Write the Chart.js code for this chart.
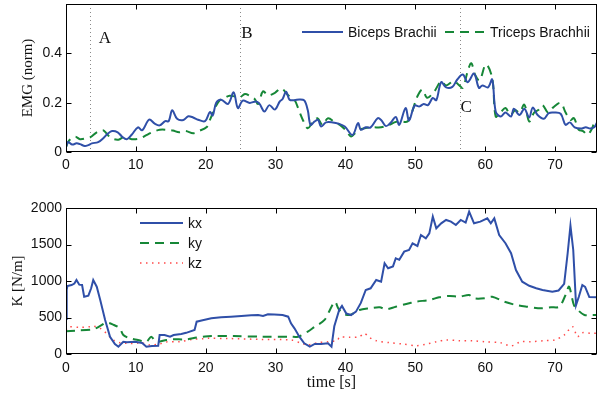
<!DOCTYPE html>
<html><head><meta charset="utf-8">
<script src="https://cdn.jsdelivr.net/npm/chart.js@4"></script>
<style>
html,body{margin:0;padding:0;background:#fff;}
#wrap{position:relative;width:598px;height:395px;overflow:hidden;background:#fff;}
canvas{position:absolute;left:0;}
</style></head><body>
<div id="wrap">
<canvas id="c1" width="598" height="190" style="top:0px"></canvas>
<canvas id="c2" width="598" height="205" style="top:190px"></canvas>
</div>
<script>
// ---------- DATA ----------
const timeTicks = [0,10,20,30,40,50,60,70];
const emgTicks = [0,0.2,0.4];
const stiffTicks = [0,500,1000,1500,2000];

const phaseTimes = [3.5,24.9,56.4];
const phaseLabels = ['A','B','C'];

const bicepsTime = [0,0.3,0.9,1.5,2.0,2.7,3.2,3.7,4.6,5.3,6.0,6.6,7.4,8.0,8.7,9.4,10.3,10.9,11.9,12.7,13.4,14.2,14.7,15.2,15.9,16.8,17.5,18.2,18.9,19.9,20.6,21.0,21.5,22.2,23.2,24.0,24.6,25.3,26.3,27.2,27.7,28.4,29.1,29.9,30.6,31.0,31.5,32.0,32.7,33.4,34.1,34.6,35.0,35.6,36.1,36.5,37.2,38.2,39.0,39.9,41.0,41.8,42.2,42.9,43.6,44.6,45.1,45.8,46.5,47.2,47.7,48.6,49.1,49.9,50.6,51.2,51.8,52.5,53.0,53.7,54.4,55.3,56.0,56.8,57.5,58.4,59.1,59.6,60.4,61.0,61.5,62.2,62.9,63.7,64.1,64.9,65.6,66.3,66.8,67.5,68.4,69.1,69.9,70.8,71.5,72.1,72.8,73.7,74.4,75.0,75.6,76];
const bicepsEMG = [0.02,0.04,0.03,0.035,0.032,0.024,0.028,0.035,0.04,0.055,0.075,0.085,0.08,0.063,0.052,0.07,0.1,0.088,0.131,0.115,0.108,0.125,0.125,0.169,0.135,0.13,0.145,0.14,0.131,0.125,0.162,0.148,0.2,0.212,0.195,0.242,0.178,0.208,0.199,0.205,0.195,0.164,0.19,0.172,0.205,0.215,0.244,0.212,0.21,0.213,0.209,0.17,0.11,0.124,0.13,0.103,0.12,0.12,0.115,0.103,0.069,0.117,0.09,0.1,0.1,0.137,0.13,0.105,0.12,0.142,0.11,0.178,0.128,0.188,0.185,0.195,0.19,0.219,0.21,0.283,0.262,0.264,0.294,0.314,0.283,0.318,0.26,0.27,0.262,0.294,0.164,0.144,0.16,0.144,0.175,0.15,0.175,0.14,0.18,0.15,0.135,0.158,0.16,0.155,0.11,0.12,0.1,0.095,0.1,0.095,0.1,0.12];

const tricepsTime = [0,0.4,1.3,2.0,2.8,3.5,4.4,5.3,5.8,6.5,7.5,8.4,9.4,10.6,11.5,12.2,13.4,14.4,15.3,16.2,17.1,18.2,19.0,20.1,20.6,21.3,22.0,22.7,23.4,24.2,24.9,25.6,26.3,27.0,27.5,28.2,28.9,29.9,30.8,31.8,32.7,33.4,33.9,34.6,35.3,36.0,36.7,37.5,38.5,39.2,40.0,40.8,41.5,42.0,42.7,43.4,44.1,45.1,46.3,47.0,47.7,48.9,49.5,50.3,51.0,51.7,52.7,53.7,54.4,55.5,56.3,56.8,57.5,58.0,58.6,59.2,60.1,61.0,61.5,62.2,62.9,63.6,64.3,64.9,65.6,66.3,67.0,67.6,68.2,69.0,69.7,70.8,71.5,72.2,72.7,73.4,74.0,74.6,75.2,75.6,76];
const tricepsEMG = [0.02,0.045,0.062,0.052,0.055,0.06,0.08,0.088,0.075,0.056,0.05,0.062,0.052,0.055,0.068,0.078,0.09,0.09,0.087,0.08,0.085,0.076,0.085,0.1,0.13,0.178,0.21,0.219,0.228,0.225,0.222,0.235,0.228,0.215,0.195,0.246,0.23,0.24,0.258,0.23,0.212,0.164,0.13,0.096,0.12,0.137,0.11,0.137,0.12,0.11,0.09,0.063,0.08,0.09,0.096,0.1,0.1,0.1,0.11,0.12,0.125,0.124,0.16,0.226,0.253,0.22,0.245,0.287,0.27,0.287,0.27,0.26,0.328,0.36,0.31,0.29,0.355,0.3,0.144,0.16,0.178,0.15,0.17,0.16,0.192,0.124,0.16,0.17,0.19,0.16,0.18,0.199,0.16,0.13,0.137,0.09,0.085,0.07,0.09,0.117,0.13];

const kxTime = [0,0.1,0.2,0.8,1.2,1.5,1.9,2.3,2.6,3.2,3.6,3.9,4.4,4.9,5.6,6.3,7.0,7.5,8.2,8.7,9.9,10.9,11.5,12.3,13.2,13.4,14.1,14.9,15.4,16.5,17.2,18.4,18.7,19.4,20.8,22.2,23.6,25.1,26.5,27.5,28.2,28.9,29.8,31.0,31.8,32.2,32.7,33.4,34.1,34.9,35.6,36.5,37.5,38.0,38.4,39.1,39.5,40.1,40.8,41.5,42.2,42.9,43.6,44.4,45.1,45.6,46.1,46.8,47.2,47.7,48.4,49.1,49.6,50.3,50.8,51.5,52.0,52.5,53.0,53.7,54.4,55.1,55.8,56.5,57.2,57.7,58.4,59.3,60.3,60.8,61.3,62.0,62.9,63.7,64.4,65.3,66.3,67.3,68.2,69.6,70.5,71.3,71.8,72.2,72.6,73.0,73.4,73.9,74.3,74.9,76];
const kxValues = [480,880,932,945,965,1014,950,945,785,800,900,1014,922,740,466,237,137,100,168,160,168,150,100,110,114,260,260,237,260,274,290,329,443,460,489,503,510,520,530,534,520,544,540,534,511,420,352,237,147,100,137,137,147,100,380,603,658,557,534,580,700,877,900,1014,990,1243,1174,1200,1311,1290,1402,1425,1517,1480,1630,1585,1653,1882,1722,1790,1836,1813,1767,1836,1800,1950,1790,1813,1858,1790,1858,1630,1517,1380,1150,990,935,900,877,853,870,960,1380,1760,1425,670,785,945,920,780,777];

const kyTime = [0,1.3,3.9,4.9,5.8,6.8,7.7,8.2,9.1,10.3,11.5,12.2,12.9,14.4,15.3,17.2,18.7,19.9,21.3,24.0,28.0,32.2,33.2,34.6,35.6,37.0,38.0,38.5,39.0,39.6,40.6,42.0,43.4,44.9,45.8,47.2,48.7,50.1,52.0,53.4,54.9,56.3,57.7,58.4,59.9,61.0,62.7,64.4,66.0,68.0,69.4,70.6,71.5,72.0,72.7,73.4,74.2,75.0,76];
const kyValues = [310,320,338,384,430,400,352,260,215,192,168,237,168,192,201,201,225,240,246,246,237,237,237,306,374,466,648,717,620,557,534,603,626,640,612,648,685,717,740,777,795,785,808,763,763,785,717,671,648,626,640,648,808,922,671,590,534,534,534];

const kzTime = [0,0.3,2.0,3.4,3.9,4.9,5.8,6.8,7.7,8.7,10.1,10.6,12.0,13.4,14.4,16.3,18.1,19.6,20.3,23.2,28.0,32.2,33.7,34.6,36.0,37.5,38.9,39.1,40.6,42.0,42.7,43.4,44.4,46.3,48.2,50.1,51.5,53.0,54.4,56.3,58.2,59.9,62.2,63.7,65.1,66.5,68.4,69.9,71.3,72.5,73.2,73.9,75.1,76];
const kzValues = [330,370,366,374,384,352,283,190,155,147,147,160,125,137,165,168,201,210,215,212,200,192,147,123,155,168,192,230,229,237,283,229,182,155,137,114,133,168,192,182,182,168,155,110,168,168,182,192,260,374,237,292,283,283];

// ---------- HELPERS ----------
const pts = (xs, ys) => xs.map((x, i) => ({x, y: ys[i]}));
const SANS = "'Liberation Sans', Arial, Helvetica, sans-serif";
const SERIF = "'Liberation Serif', 'Times New Roman', serif";
const BLUE = '#2f4fa8', GREEN = '#168737', RED = '#ff4a4a';

const framePlugin = {
  id: 'frame',
  beforeDatasetsDraw(chart, args, opts) {
    const {ctx, chartArea: a, scales: {x}} = chart;
    if (opts.markers) {
      ctx.save();
      ctx.strokeStyle = '#8a8a8a';
      ctx.lineWidth = 1;
      ctx.setLineDash([1, 3]);
      opts.markers.times.forEach(t => {
        const px = Math.round(x.getPixelForValue(t)) + 0.5;
        ctx.beginPath(); ctx.moveTo(px, a.top); ctx.lineTo(px, a.bottom); ctx.stroke();
      });
      ctx.setLineDash([]);
      ctx.fillStyle = '#111';
      ctx.font = '17px ' + SERIF;
      ctx.textAlign = 'center'; ctx.textBaseline = 'middle';
      opts.markers.times.forEach((t, i) => {
        const off = opts.markers.offsets[i];
        ctx.fillText(opts.markers.labels[i], x.getPixelForValue(t) + off[0], a.top + off[1]);
      });
      ctx.restore();
    }
  },
  afterDraw(chart, args, opts) {
    const {ctx, chartArea: a, scales: {x, y}} = chart;
    ctx.save();
    ctx.strokeStyle = '#000';
    ctx.lineWidth = 1;
    const L = Math.round(a.left) + 0.5, R = Math.round(a.right) - 0.5;
    const T = Math.round(a.top) + 0.5, B = Math.round(a.bottom) - 0.5;
    ctx.beginPath();
    opts.xTicks.forEach(v => {
      const px = Math.round(x.getPixelForValue(v)) + 0.5;
      ctx.moveTo(px, B); ctx.lineTo(px, B - 5);
      ctx.moveTo(px, T); ctx.lineTo(px, T + 5);
    });
    opts.yTicks.forEach(v => {
      const py = Math.round(y.getPixelForValue(v)) + 0.5;
      ctx.moveTo(L, py); ctx.lineTo(L + 5, py);
      ctx.moveTo(R, py); ctx.lineTo(R - 5, py);
    });
    ctx.stroke();
    ctx.strokeRect(L, T, R - L, B - T);
    // legend
    const lg = opts.legend;
    if (lg) {
      ctx.font = '14px ' + SANS;
      ctx.textAlign = 'left'; ctx.textBaseline = 'middle';
      chart.data.datasets.forEach((ds, i) => {
        const it = lg.items[i];
        ctx.save();
        ctx.strokeStyle = ds.borderColor;
        ctx.lineWidth = ds.borderWidth;
        ctx.setLineDash(ds.borderDash || []);
        ctx.beginPath(); ctx.moveTo(it[0], it[2]); ctx.lineTo(it[1], it[2]); ctx.stroke();
        ctx.restore();
        ctx.fillStyle = '#111';
        ctx.fillText(ds.label, it[1] + 5, it[2] + 1);
      });
    }
    ctx.restore();
  }
};

function xScale(padTop) {
  return {
    type: 'linear', min: 0, max: 76,
    afterBuildTicks: s => { s.ticks = timeTicks.map(v => ({value: v})); },
    grid: {display: false, drawTicks: false},
    border: {display: false},
    ticks: {padding: padTop, color: '#111', font: {family: SANS, size: 14}, maxRotation: 0, autoSkip: false, callback: v => String(v)}
  };
}
const fitY = s => { s.width = 66; s.paddingTop = 0; s.paddingBottom = 0; };

// ---------- TOP CHART (EMG) ----------
new Chart(document.getElementById('c1'), {
  type: 'line',
  data: {
    datasets: [
      {label: 'Biceps Brachii', data: pts(bicepsTime, bicepsEMG), borderColor: BLUE, borderWidth: 2, pointRadius: 0, tension: 0.35, fill: false},
      {label: 'Triceps Brachhii', data: pts(tricepsTime, tricepsEMG), borderColor: GREEN, borderWidth: 2, borderDash: [9, 6], pointRadius: 0, tension: 0.35, fill: false}
    ]
  },
  options: {
    responsive: false, animation: false, devicePixelRatio: 1,
    layout: {padding: {top: 4, right: 1, left: 0, bottom: 0}},
    plugins: {
      legend: {display: false}, tooltip: {enabled: false},
      frame: {
        xTicks: timeTicks, yTicks: emgTicks,
        markers: {times: phaseTimes, labels: phaseLabels, offsets: [[14.5, 35], [7, 29.5], [6, 104]]},
        legend: {items: [[302, 343, 32], [445, 485, 32]]}
      }
    },
    scales: {
      x: Object.assign(xScale(5), {afterFit: s => { s.height = 38; }}),
      y: {
        type: 'linear', min: 0, max: 0.6,
        afterBuildTicks: s => { s.ticks = emgTicks.map(v => ({value: v})); },
        afterFit: fitY,
        grid: {display: false, drawTicks: false}, border: {display: false},
        ticks: {padding: 4, color: '#111', font: {family: SANS, size: 14}, callback: v => String(v)},
        title: {display: true, text: 'EMG (norm)', color: '#111', font: {family: SERIF, size: 15}, padding: {top: 19, bottom: 0}}
      }
    }
  },
  plugins: [framePlugin]
});

// ---------- BOTTOM CHART (stiffness) ----------
new Chart(document.getElementById('c2'), {
  type: 'line',
  data: {
    datasets: [
      {label: 'kx', data: pts(kxTime, kxValues), borderColor: BLUE, borderWidth: 2, pointRadius: 0, tension: 0, fill: false},
      {label: 'ky', data: pts(kyTime, kyValues), borderColor: GREEN, borderWidth: 2, borderDash: [9, 6], pointRadius: 0, tension: 0.3, fill: false},
      {label: 'kz', data: pts(kzTime, kzValues), borderColor: RED, borderWidth: 1.5, borderDash: [1.5, 4.5], pointRadius: 0, tension: 0.3, fill: false}
    ]
  },
  options: {
    responsive: false, animation: false, devicePixelRatio: 1,
    layout: {padding: {top: 18, right: 1, left: 0, bottom: 0}},
    plugins: {
      legend: {display: false}, tooltip: {enabled: false},
      frame: {
        xTicks: timeTicks, yTicks: stiffTicks,
        legend: {items: [[140, 183, 33], [140, 183, 53], [140, 183, 73]]}
      }
    },
    scales: {
      x: Object.assign(xScale(6), {
        afterFit: s => { s.height = 41; },
        title: {display: true, text: 'time [s]', color: '#111', font: {family: SERIF, size: 16}, padding: {top: 0, bottom: 3}}
      }),
      y: {
        type: 'linear', min: 0, max: 2000,
        afterBuildTicks: s => { s.ticks = stiffTicks.map(v => ({value: v})); },
        afterFit: fitY,
        grid: {display: false, drawTicks: false}, border: {display: false},
        ticks: {padding: 4, color: '#111', font: {family: SANS, size: 14}, callback: v => String(v)},
        title: {display: true, text: 'K [N/m]', color: '#111', font: {family: SERIF, size: 15}, padding: {top: 9, bottom: 0}}
      }
    }
  },
  plugins: [framePlugin]
});
</script>
</body></html>
